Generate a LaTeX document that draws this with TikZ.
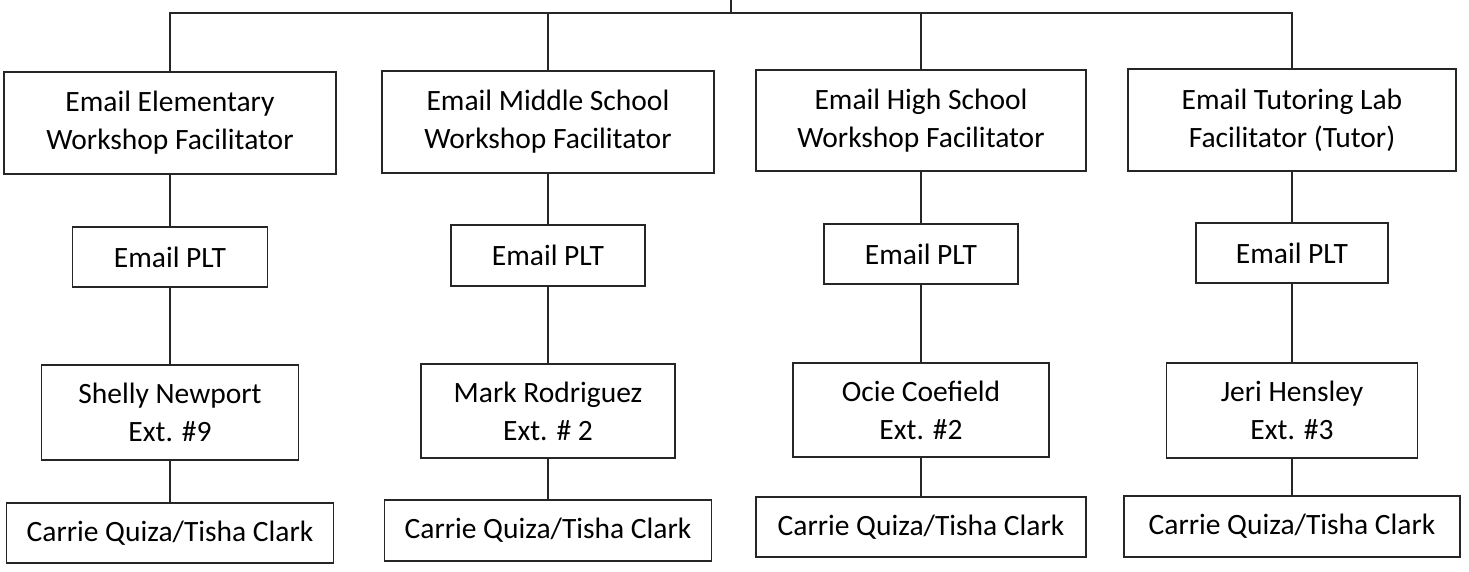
\documentclass[tikz,border=0pt]{standalone}
\usepackage{fontspec}
\setmainfont{Carlito}
\begin{document}
\begin{tikzpicture}[x=1pt,y=-1pt,
  line width=1.4pt, draw=black!85,
  box/.style={draw=black!85, line width=1.4pt, rectangle, inner sep=0pt, align=center,
    font=\fontsize{29.5}{38}\selectfont, text=black},
  conn/.style={draw=black!85, line width=1.4pt}]
\useasboundingbox (0,0) rectangle (1469,571);
% column 1
\node[box, minimum width=332, minimum height=102] (t1) at (170,123) {Email Elementary\\Workshop Facilitator};
\node[box, minimum width=195, minimum height=60] (p1) at (170,257) {Email PLT};
\node[box, minimum width=257, minimum height=95] (n1) at (170,412.5) {Shelly Newport\\Ext. \#9};
\node[box, minimum width=327, minimum height=60] (c1) at (170,533) {Carrie Quiza/Tisha Clark};
% column 2
\node[box, minimum width=332, minimum height=102] (t2) at (548,122) {Email Middle School\\Workshop Facilitator};
\node[box, minimum width=194, minimum height=61] (p2) at (548,255.5) {Email PLT};
\node[box, minimum width=254, minimum height=94] (n2) at (548,411) {Mark Rodriguez\\Ext. \# 2};
\node[box, minimum width=327, minimum height=61] (c2) at (548,530.5) {Carrie Quiza/Tisha Clark};
% column 3
\node[box, minimum width=330, minimum height=101] (t3) at (921,120.5) {Email High School\\Workshop Facilitator};
\node[box, minimum width=194, minimum height=60] (p3) at (921,254) {Email PLT};
\node[box, minimum width=256, minimum height=94] (n3) at (921,410) {Ocie Coefield\\Ext. \#2};
\node[box, minimum width=330, minimum height=60] (c3) at (921,527) {Carrie Quiza/Tisha Clark};
% column 4
\node[box, minimum width=328, minimum height=102] (t4) at (1292,120) {Email Tutoring Lab\\Facilitator (Tutor)};
\node[box, minimum width=192, minimum height=60] (p4) at (1292,253) {Email PLT};
\node[box, minimum width=251, minimum height=95] (n4) at (1292,410.5) {Jeri Hensley\\Ext. \#3};
\node[box, minimum width=336, minimum height=61] (c4) at (1292,526.5) {Carrie Quiza/Tisha Clark};
% top bar
\coordinate (stub) at (731,0);
\coordinate (bar1) at (170,13);
\coordinate (bar4) at (1292,13);
\coordinate (barm) at (731,13);
\draw[conn] (stub) -- (barm);
\draw[conn] (t1.north) -- (bar1) -- (bar4) -- (t4.north);
\draw[conn] (t2.north) -- (t2.north |- barm);
\draw[conn] (t3.north) -- (t3.north |- barm);
% verticals
\foreach \i in {1,2,3,4}{
  \draw[conn] (t\i.south) -- (p\i.north);
  \draw[conn] (p\i.south) -- (n\i.north);
  \draw[conn] (n\i.south) -- (c\i.north);
}
\end{tikzpicture}
\end{document}
